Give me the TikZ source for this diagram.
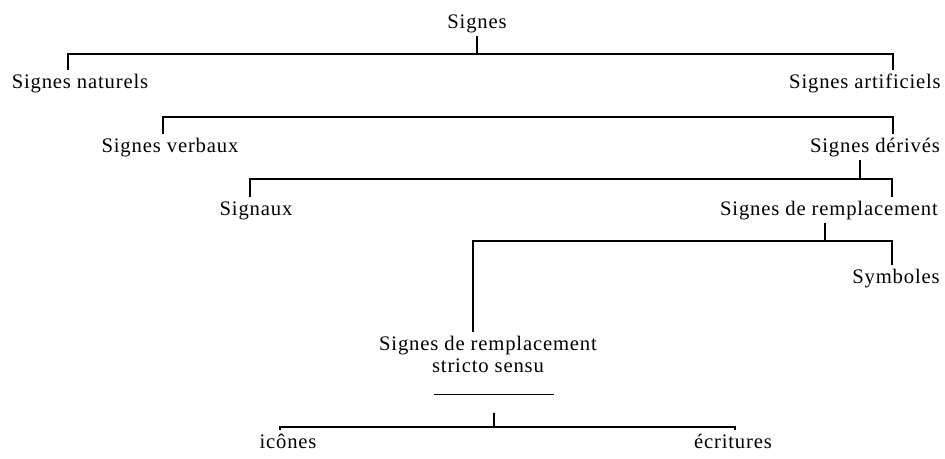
\documentclass[tikz,border=0pt]{standalone}
\usepackage{fontspec}
\setmainfont{Liberation Serif}[LetterSpace=4]
\usetikzlibrary{calc}
\newcommand*{\lw }{1.3pt}
\newcommand*{\fsz}{\fontsize{15.5}{16.5}\selectfont}

\begin{document}
\begin{tikzpicture}[x=0.75pt, y=-0.75pt, line width=\lw, line cap=rect,
        lbl/.style={anchor=base, inner sep=3pt, text height=10.5pt, text depth=3pt, font=\fsz}]
    \useasboundingbox (0,0) rectangle (945,458);
    \node [lbl] (signes) at (477, 28) {Signes};
    \node [lbl] (nat)    at ( 80, 88) {Signes naturels};
    \node [lbl] (art)    at (865, 88) {Signes artificiels};
    \node [lbl] (verb)   at (170,152) {Signes verbaux};
    \node [lbl] (der)    at (875,152) {Signes dérivés};
    \node [lbl] (sig)    at (256,215) {Signaux};
    \node [lbl] (rempl)  at (829,215) {Signes de remplacement};
    \node [lbl] (symb)   at (896,283) {Symboles};
    \node [anchor=north, inner sep=3pt, align=center, font=\fsz] (rss) at (488,331) {Signes de remplacement\\stricto sensu};
    \node [lbl] (ico)    at (288,448) {icônes};
    \node [lbl] (ecr)    at (733,448) {écritures};
    % bars
    \coordinate (b1l) at ( 68, 54); \coordinate (b1r) at (893, 54);
    \coordinate (b2l) at (163,117); \coordinate (b2r) at (893,117);
    \coordinate (b3l) at (250,179); \coordinate (b3r) at (892,179); \coordinate (b3s) at (860,179);
    \coordinate (b4l) at (473,241); \coordinate (b4r) at (892,241); \coordinate (b4s) at (825,241);
    \coordinate (b5l) at (280,427); \coordinate (b5r) at (735,427);
    \coordinate (ul) at ($(rss.south)+(6,17)$);
    \draw (signes) -- (signes |- b1l);
    \draw (b1l |- nat.north) -- (b1l) -- (b1r) -- (b1r |- art.north);
    \draw (b2l |- verb.north) -- (b2l) -- (b2r) -- (b2r |- der.north);
    \draw (b3s |- der.south) -- (b3s);
    \draw (b3l |- sig.north) -- (b3l) -- (b3r) -- (b3r |- rempl.north);
    \draw (b4s |- rempl.south) -- (b4s);
    \draw (b4l |- rss.north) -- (b4l) -- (b4r) -- (b4r |- symb.north);
    \draw [line width=1pt] ($(ul)+(-59,0)$) -- ($(ul)+(59,0)$);
    \draw ($(ul)+(0,20)$) -- (ul |- b5l);
    \draw (b5l |- ico.north) -- (b5l) -- (b5r) -- (b5r |- ecr.north);
\end{tikzpicture}
\end{document}
